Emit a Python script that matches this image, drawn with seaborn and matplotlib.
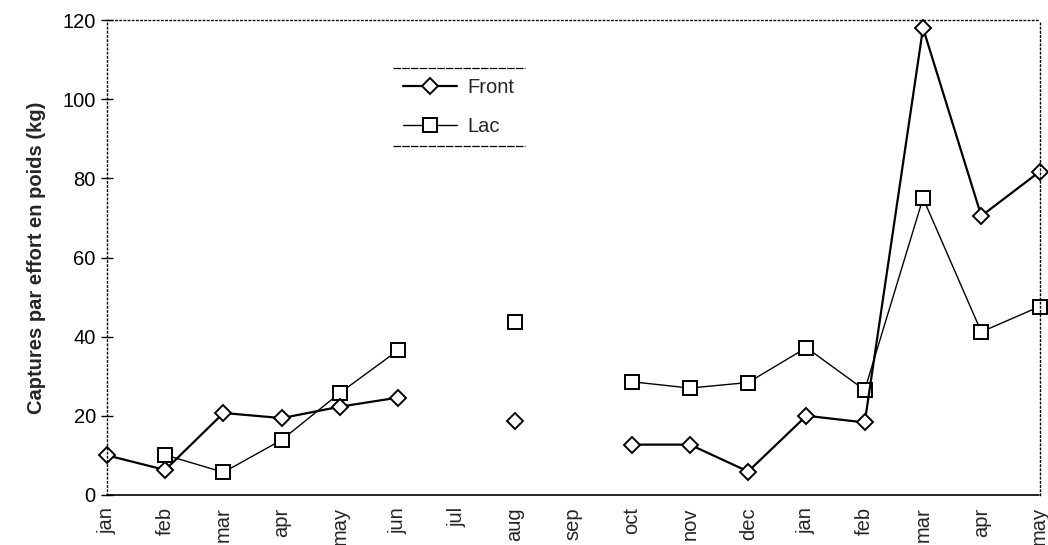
import numpy as np
import pandas as pd
import matplotlib
matplotlib.use("Agg")
import matplotlib.pyplot as plt
from matplotlib.lines import Line2D
import seaborn as sns

months = ["jan", "feb", "mar", "apr", "may", "jun", "jul", "aug", "sep",
          "oct", "nov", "dec", "jan", "feb", "mar", "apr", "may"]
front = [10, 6.3, 20.7, 19.4, 22.3, 24.6, np.nan, 18.6, np.nan,
         12.7, 12.7, 5.9, 20.0, 18.3, 118, 70.5, 81.7]
lac = [np.nan, 10.1, 5.7, 13.9, 25.8, 36.6, np.nan, 43.6, np.nan,
       28.6, 27.0, 28.4, 37.2, 26.5, 75.0, 41.2, 47.6]
yticks = [0, 20, 40, 60, 80, 100, 120]

sns.set_style("white")
plt.rcParams["font.family"] = ["Liberation Sans", "DejaVu Sans"]

fig, ax = plt.subplots(figsize=(10.48, 5.45), dpi=100)
fig.subplots_adjust(left=0.102, right=0.992, top=0.963, bottom=0.092)

x = np.arange(len(months))

def segments(vals):
    segs, cur = [], []
    for i, v in enumerate(vals):
        if np.isnan(v):
            if cur:
                segs.append(cur)
            cur = []
        else:
            cur.append(i)
    if cur:
        segs.append(cur)
    return segs

styles = {
    "Front": dict(marker="D", markersize=8, linewidth=1.6),
    "Lac": dict(marker="s", markersize=9.5, linewidth=1.0),
}
for name, vals in [("Lac", lac), ("Front", front)]:
    vals = np.array(vals, dtype=float)
    for seg in segments(vals):
        df = pd.DataFrame({"x": x[seg], "y": vals[seg]})
        sns.lineplot(data=df, x="x", y="y", ax=ax, color="black",
                     markerfacecolor="white", markeredgecolor="black",
                     markeredgewidth=1.4, estimator=None, sort=False,
                     clip_on=False, **styles[name])

ax.set_xlim(0, len(months) - 1)
ax.set_ylim(0, 120)
ax.set_xticks(x)
ax.set_xticklabels(months, rotation=90, fontsize=14.5)
ax.set_yticks(yticks)
ax.set_yticklabels([str(t) for t in yticks], fontsize=14.5)
ax.set_xlabel("")
ax.set_ylabel("Captures par effort en poids (kg)", fontsize=14.5,
              fontweight="bold", labelpad=12)

for side in ["top", "right", "left"]:
    ax.spines[side].set_linestyle((0, (1, 2)))
    ax.spines[side].set_linewidth(1.0)
    ax.spines[side].set_color("black")
ax.spines["bottom"].set_linestyle((0, (4, 1)))
ax.spines["bottom"].set_linewidth(1.2)
ax.spines["bottom"].set_color("black")

ax.tick_params(axis="y", direction="inout", length=8, width=1, left=True,
               colors="black", pad=4)
ax.tick_params(axis="x", direction="out", length=0, bottom=True, pad=9)

handles = [
    Line2D([], [], color="black", lw=1.6, marker="D", markersize=8,
           markerfacecolor="white", markeredgewidth=1.4),
    Line2D([], [], color="black", lw=1.0, marker="s", markersize=9.5,
           markerfacecolor="white", markeredgewidth=1.4),
]
leg = ax.legend(handles, ["Front", "Lac"], loc="upper left",
                bbox_to_anchor=(0.296, 0.92), frameon=False, fontsize=14.5,
                handlelength=2.7, handletextpad=0.5, labelspacing=1.0,
                borderpad=0.5)

fig.canvas.draw()
bb = leg.get_window_extent().transformed(ax.transAxes.inverted())
for yy in (bb.y0, bb.y1):
    ax.plot([bb.x0, bb.x1], [yy, yy], transform=ax.transAxes, color="black",
            lw=0.9, linestyle=(0, (6, 1)), clip_on=False)

fig.savefig("out.png", dpi=100)
